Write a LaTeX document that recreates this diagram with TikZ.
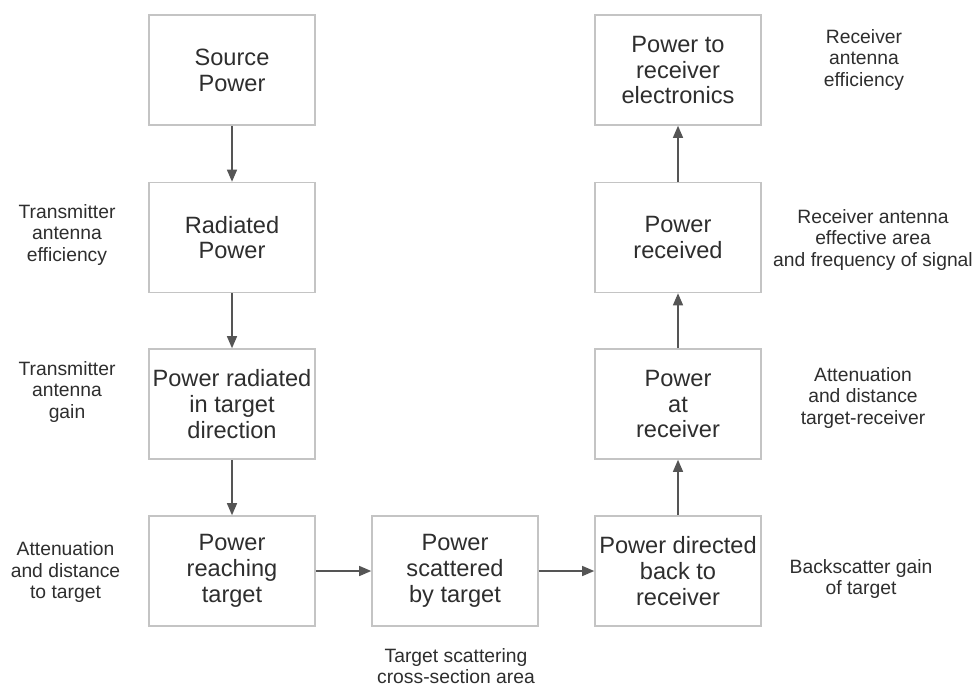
\documentclass[tikz,border=0pt]{standalone}
\usepackage{fontspec}
\setmainfont{Liberation Sans}
\usetikzlibrary{arrows.meta}
\definecolor{txt}{HTML}{2E2E2E}
\definecolor{boxline}{HTML}{C4C4C4}
\definecolor{arrline}{HTML}{555555}
\begin{document}
\begin{tikzpicture}[x=1pt,y=-1pt,
  blk/.style={draw=boxline,line width=1.6pt,minimum width=166pt,minimum height=110pt,inner sep=0pt,align=center,text=txt,font=\fontsize{23.6}{25.8}\selectfont},
  lbl/.style={align=center,text=txt,inner sep=0pt,font=\fontsize{19.3}{21.8}\selectfont},
  conn/.style={draw=arrline,line width=1.3pt,-{Triangle[length=12pt,width=10pt]}}]
\useasboundingbox (0,0) rectangle (977,686);
\fill[white] (0,0) rectangle (977,686);
% left column
\node[blk] (src) at (232,70) {Source\\Power};
\node[blk] (rad) at (232,237.5) {Radiated\\Power};
\node[blk] (dir) at (232,404) {Power radiated\\in target\\direction};
\node[blk] (reach) at (232,571) {Power\\reaching\\target};
% bottom middle
\node[blk] (scat) at (455,571) {Power\\scattered\\by target};
% right column
\node[blk] (back) at (678,571) {Power directed\\back to\\receiver};
\node[blk] (atrx) at (678,404) {Power\\at\\receiver};
\node[blk] (recv) at (678,237.5) {Power\\received};
\node[blk] (elec) at (678,70) {Power to\\receiver\\electronics};
% connectors
\draw[conn] (src) -- (rad);
\draw[conn] (rad) -- (dir);
\draw[conn] (dir) -- (reach);
\draw[conn] (reach) -- (scat);
\draw[conn] (scat) -- (back);
\draw[conn] (back) -- (atrx);
\draw[conn] (atrx) -- (recv);
\draw[conn] (recv) -- (elec);
% labels
\node[lbl] (l1) at (67,235) {Transmitter\\antenna\\efficiency};
\node[lbl] (l2) at (67,392) {Transmitter\\antenna\\gain};
\node[lbl] (l3) at (65.5,572) {Attenuation\\and distance\\to target};
\node[lbl] (l4) at (456,666) {Target scattering\\cross-section area};
\node[lbl] (r1) at (861,579) {Backscatter gain\\of target};
\node[lbl] (r2) at (863,398) {Attenuation\\and distance\\target-receiver};
\node[lbl] (r3) at (873,240) {Receiver antenna\\effective area\\and frequency of signal};
\node[lbl] (r4) at (864,60) {Receiver\\antenna\\efficiency};
\end{tikzpicture}
\end{document}
